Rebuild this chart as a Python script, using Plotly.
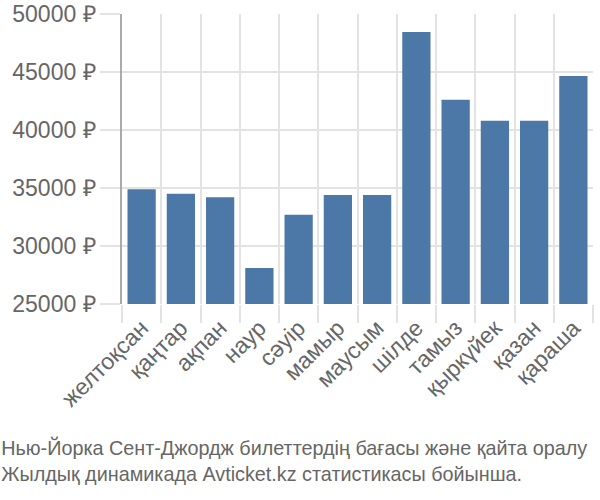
import plotly.graph_objects as go

months = ['желтоқсан', 'қаңтар', 'ақпан', 'наур', 'сәуір', 'мамыр',
          'маусым', 'шілде', 'тамыз', 'қыркүйек', 'қазан', 'қараша']
prices = [34900, 34500, 34200, 28100, 32700, 34400,
          34400, 48450, 42600, 40800, 40800, 44650]
y_ticks = [25000, 30000, 35000, 40000, 45000, 50000]
y_labels = [f'{v} ₽' for v in y_ticks]

fig = go.Figure(go.Bar(
    x=months, y=prices,
    marker=dict(color='#4c78a8', line=dict(width=0)),
))

fig.update_layout(
    width=600, height=500,
    margin=dict(l=122, r=7, t=14, b=196, autoexpand=False),
    plot_bgcolor='white', paper_bgcolor='white',
    bargap=0.28,
    showlegend=False,
    font=dict(family='Liberation Sans, Arial, sans-serif', size=21, color='#666'),
    title=dict(
        text='Нью-Йорка Сент-Джордж билеттердің бағасы және қайта оралу<br>'
             'Жылдық динамикада Avticket.kz статистикасы бойынша.',
        xref='container', yref='container', x=0.002, y=0.09,
        xanchor='left', yanchor='middle',
        font=dict(family='Liberation Sans, Arial, sans-serif',
                  size=19.8, color='#666'),
    ),
)
fig.update_xaxes(
    type='category', tickson='boundaries', automargin=False,
    showgrid=True, gridcolor='#e3e3e3', gridwidth=1.5,
    ticks='outside', ticklen=18, tickcolor='#e3e3e3', tickwidth=1.5,
    ticklabelstandoff=5,
    tickangle=-45, tickfont=dict(size=23, color='#666'),
)
fig.update_yaxes(
    range=[25000, 50000], tickvals=y_ticks, ticktext=y_labels, automargin=False,
    showgrid=True, gridcolor='#e3e3e3', gridwidth=1.5,
    ticks='outside', ticklen=20, tickcolor='#e3e3e3', tickwidth=1.5,
    showline=True, linecolor='#aaa', linewidth=1.5,
    zeroline=False, tickfont=dict(size=23, color='#666'),
)

fig.write_html('out.html', config={'displayModeBar': False},
               post_script="document.body.style.margin='0';")
